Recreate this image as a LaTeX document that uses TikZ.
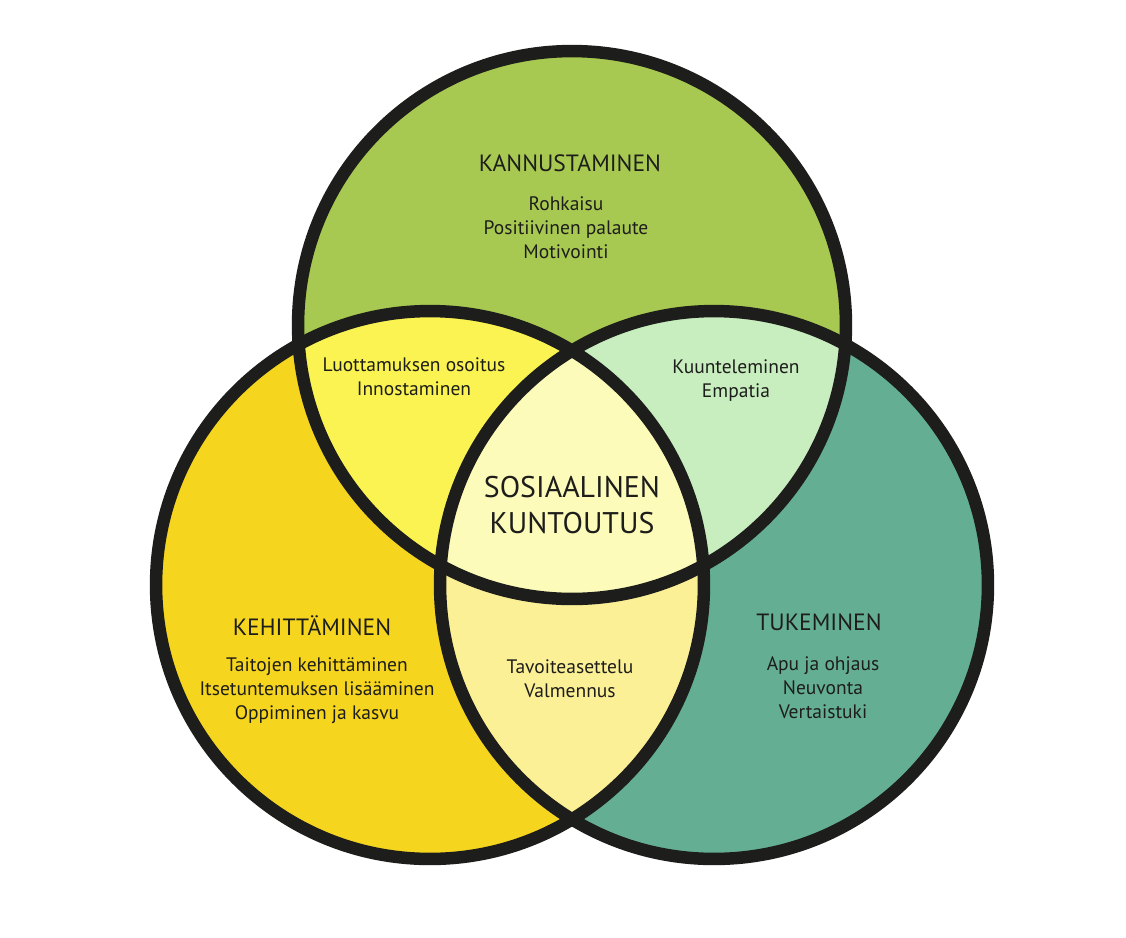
\documentclass[tikz,border=0pt]{standalone}
\usepackage{fontspec}
\setmainfont{PT Sans}[RawFeature=-liga]
\definecolor{cgreen}{HTML}{A8C951}
\definecolor{cyellow}{HTML}{F6D51F}
\definecolor{cteal}{HTML}{64AF94}
\definecolor{ctl}{HTML}{FAF352}
\definecolor{ctr}{HTML}{C8EEBF}
\definecolor{clr}{HTML}{FBF096}
\definecolor{ccen}{HTML}{FDFBB9}
\definecolor{cline}{HTML}{1D1D1B}
\tikzset{
  ring/.style={draw=cline, line width=0.25cm},
  title/.style={font=\fontsize{13.4pt}{17pt}\selectfont, text=cline, inner sep=0pt, anchor=base},
  body/.style={font=\fontsize{11.1pt}{13.4pt}\selectfont, text=cline, inner sep=0pt, align=center, anchor=base},
  big/.style={font=\fontsize{17pt}{20.4pt}\selectfont, text=cline, inner sep=0pt, align=center, anchor=base},
}
\begin{document}
\begin{tikzpicture}[x=0.02cm,y=-0.02cm]
\useasboundingbox (0,0) rectangle (1126,937);
\fill[white] (0,0) rectangle (1126,937);
\def\R{5.48cm}
\coordinate (T) at (572,325);
\coordinate (L) at (430,585);
\coordinate (Rt) at (714,585);
\fill[cgreen] (T) circle (\R);
\fill[cyellow] (L) circle (\R);
\fill[cteal] (Rt) circle (\R);
\begin{scope}
  \clip (L) circle (\R);
  \fill[clr] (Rt) circle (\R);
\end{scope}
\begin{scope}
  \clip (T) circle (\R);
  \fill[ctl] (L) circle (\R);
  \fill[ctr] (Rt) circle (\R);
  \clip (L) circle (\R);
  \fill[ccen] (Rt) circle (\R);
\end{scope}
\draw[ring] (T) circle (\R);
\draw[ring] (L) circle (\R);
\draw[ring] (Rt) circle (\R);

% anchor=base is the baseline of the last line
\node[title] (kt) at (570,171) {KANNUSTAMINEN};
\node[body] (kb) at (566,258) {Rohkaisu\\Positiivinen palaute\\Motivointi};
\node[body] (tl) at (414,395) {Luottamuksen osoitus\\Innostaminen};
\node[body] (tr) at (736,397) {Kuunteleminen\\Empatia};
\node[big] (sk) at (572,533) {SOSIAALINEN\\KUNTOUTUS};
\node[title] (et) at (312,635) {KEHITTÄMINEN};
\node[body] (eb) at (317,719) {Taitojen kehittäminen\\Itsetuntemuksen lisääminen\\Oppiminen ja kasvu};
\node[body] (lr) at (570,697) {Tavoiteasettelu\\Valmennus};
\node[title] (ut) at (819,630) {TUKEMINEN};
\node[body] (ub) at (823,718) {Apu ja ohjaus\\Neuvonta\\Vertaistuki};
\end{tikzpicture}
\end{document}
